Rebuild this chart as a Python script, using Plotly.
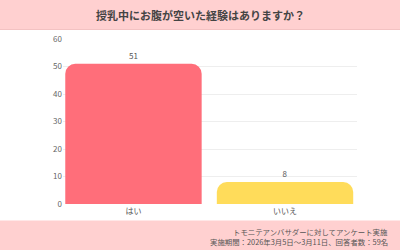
import plotly.graph_objects as go

categories = ["はい", "いいえ"]
values = [51, 8]
bar_colors = ["#FF6E7A", "#FFDC5A"]
title_text = "授乳中にお腹が空いた経験はありますか？"
footer_lines = ["トモニテアンバサダーに対してアンケート実施",
                "実施期間：2026年3月5日～3月11日、回答者数：59名"]
y_ticks = [0, 10, 20, 30, 40, 50, 60]

W, H = 400, 250
L, R, T, B = 63, 43, 39, 46
ph = H - T - B

def py(p):
    return (H - B - p) / ph

fig = go.Figure()
fig.add_trace(go.Bar(
    x=categories, y=values,
    marker=dict(color=bar_colors, cornerradius=10, line=dict(width=0)),
    width=0.9,
    text=[str(v) for v in values], textposition="outside",
    textfont=dict(size=8, color="#555555", family="Noto Sans CJK JP"),
    cliponaxis=False,
))

shapes = [
    dict(type="rect", xref="paper", yref="paper", x0=-1, x1=2, y0=py(29.5), y1=py(0),
         fillcolor="#FFD0D0", line=dict(width=0), layer="below"),
    dict(type="line", xref="paper", yref="paper", x0=-1, x1=2, y0=py(29.5), y1=py(29.5),
         line=dict(color="#F3C2C2", width=1)),
    dict(type="rect", xref="paper", yref="paper", x0=-1, x1=2, y0=py(250), y1=py(220.5),
         fillcolor="#FFD0D0", line=dict(width=0), layer="below"),
]

annotations = [
    dict(text="<b>" + title_text + "</b>", xref="paper", yref="paper",
         x=(200 - L) / (W - L - R), y=py(14.5), xanchor="center", yanchor="middle",
         showarrow=False, font=dict(size=11, color="#444444", family="Noto Sans CJK JP")),
    dict(text=footer_lines[0], xref="paper", yref="paper",
         x=(390 - L) / (W - L - R), y=py(231), xanchor="right", yanchor="middle",
         showarrow=False, font=dict(size=7.4, color="#555555", family="Noto Sans CJK JP")),
    dict(text=footer_lines[1], xref="paper", yref="paper",
         x=(390 - L) / (W - L - R), y=py(241.5), xanchor="right", yanchor="middle",
         showarrow=False, font=dict(size=7.4, color="#555555", family="Noto Sans CJK JP")),
]

fig.update_layout(
    width=W, height=H,
    margin=dict(l=L, r=R, t=T, b=B),
    paper_bgcolor="white", plot_bgcolor="white",
    showlegend=False,
    shapes=shapes, annotations=annotations,
    xaxis=dict(range=[-0.465, 1.475], showgrid=False, showline=False, ticks="",
               tickfont=dict(size=8, color="#555555", family="Noto Sans CJK JP"),
               ticklabelstandoff=1, fixedrange=True),
    yaxis=dict(range=[0, 60], tickvals=y_ticks, showgrid=True, gridcolor="#EEEEEE",
               gridwidth=1, zeroline=False, showline=False, ticks="",
               tickfont=dict(size=8, color="#666666", family="Noto Sans CJK JP"),
               fixedrange=True),
)

fig.write_html("out.html", config={"displayModeBar": False})
